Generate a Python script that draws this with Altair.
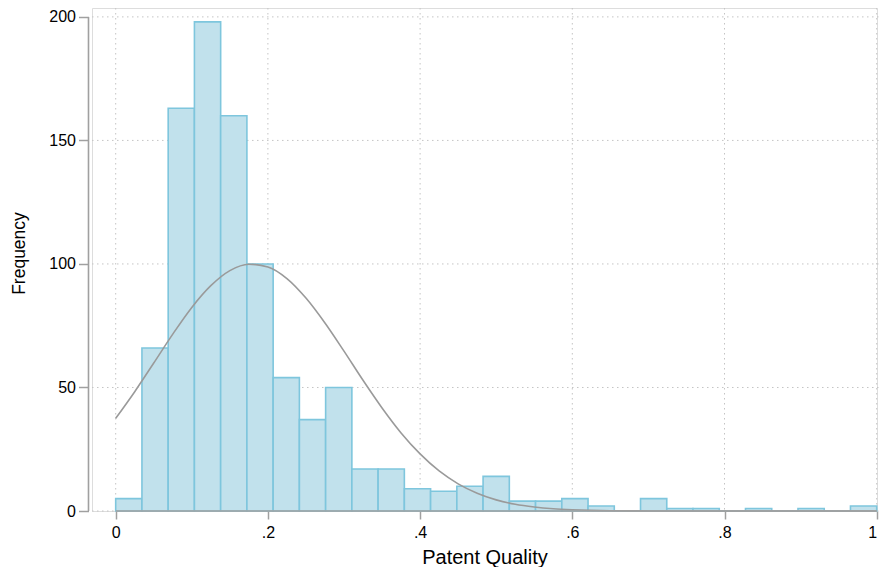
import altair as alt
import pandas as pd
import numpy as np

# ---- data ----
n_bins = 29
bin_edges = list(np.linspace(0.0, 1.0, n_bins + 1))
counts = [5, 66, 163, 198, 160, 100, 54, 37, 50, 17, 17, 9, 8, 10, 14,
          4, 4, 5, 2, 0, 5, 1, 1, 0, 1, 0, 1, 0, 2]

curve_x = [0.0, 0.025, 0.05, 0.075, 0.1, 0.125, 0.15, 0.175, 0.2, 0.225,
           0.25, 0.275, 0.3, 0.325, 0.35, 0.375, 0.4, 0.425, 0.45, 0.475,
           0.5, 0.525, 0.55, 0.575, 0.6, 0.625, 0.65, 0.7, 0.8, 0.9, 1.0]
curve_y = [37.5, 48.3, 59.9, 71.6, 82.4, 91.2, 97.3, 99.9, 98.8, 94.1,
           86.2, 76.1, 64.7, 52.9, 41.7, 31.6, 23.1, 16.2, 11.0, 7.2,
           4.5, 2.7, 1.6, 0.9, 0.5, 0.25, 0.12, 0.03, 0.0, 0.0, 0.0]

x_ticks = [0, 0.2, 0.4, 0.6, 0.8, 1]
x_tick_labels = ["0", ".2", ".4", ".6", ".8", "1"]
y_ticks = [0, 50, 100, 150, 200]

x_title = "Patent Quality"
y_title = "Frequency"

# ---- styling ----
FONT = "Liberation Sans"
BAR_FILL = "#c1e1ec"
BAR_STROKE = "#7ec6dd"
CURVE = "#9a9a9a"
AXIS = "#a0a0a0"
GRID = "#c4c4c4"

W, H = 785, 503
XDOM = [-0.03114, 1.00039]
YDOM = [0, 203.6]

bars_df = pd.DataFrame({
    "lo": bin_edges[:-1],
    "hi": bin_edges[1:],
    "count": counts,
})
curve_df = pd.DataFrame({"x": curve_x, "y": curve_y})
xgrid_df = pd.DataFrame({"x": x_ticks})
ygrid_df = pd.DataFrame({"y": y_ticks})

xscale = alt.Scale(domain=XDOM, nice=False, zero=False)
yscale = alt.Scale(domain=YDOM, nice=False, zero=False)

label_expr = "[" + ",".join("'%s'" % s for s in x_tick_labels) + "][round(datum.value*5)]"

x_axis = alt.Axis(values=x_ticks, labelExpr=label_expr, grid=False, domain=False,
                  tickColor=AXIS, tickWidth=1.5, tickSize=8, labelPadding=5,
                  labelFont=FONT, labelFontSize=16, labelColor="#000000",
                  title=x_title, titleFont=FONT, titleFontSize=20, titleFontWeight="normal",
                  titleColor="#000000", titleY=52, titleBaseline="alphabetic")
y_axis = alt.Axis(values=y_ticks, grid=False, domain=False, offset=3.5,
                  tickColor=AXIS, tickWidth=1.5, tickSize=10, labelPadding=3,
                  labelFont=FONT, labelFontSize=16, labelColor="#000000",
                  title=y_title, titleFont=FONT, titleFontSize=17.5, titleFontWeight="normal",
                  titleColor="#000000", titleAngle=270, titleX=-64.5, titleY=245,
                  titleBaseline="alphabetic")

vgrid = alt.Chart(xgrid_df).mark_rule(color=GRID, strokeWidth=1, strokeDash=[1.5, 3.5]).encode(
    x=alt.X("x:Q", scale=xscale, axis=x_axis),
    y=alt.value(0), y2=alt.value(H),
)
hgrid = alt.Chart(ygrid_df).mark_rule(color=GRID, strokeWidth=1, strokeDash=[1.5, 3.5]).encode(
    y=alt.Y("y:Q", scale=yscale, axis=y_axis),
    x=alt.value(0), x2=alt.value(W + 2),
)

bars = alt.Chart(bars_df).mark_rect(fill=BAR_FILL, stroke=BAR_STROKE, strokeWidth=1.6).encode(
    x=alt.X("lo:Q", scale=xscale),
    x2="hi:Q",
    y=alt.Y("count:Q", scale=yscale),
    y2=alt.datum(0),
)

curve = alt.Chart(curve_df).mark_line(color=CURVE, strokeWidth=1.6, interpolate="monotone").encode(
    x=alt.X("x:Q", scale=xscale),
    y=alt.Y("y:Q", scale=yscale),
)

xaxis_line = alt.Chart(pd.DataFrame({"a": [x_ticks[0]], "b": [x_ticks[-1]]})).mark_rule(
    color=AXIS, strokeWidth=1.6).encode(
    x=alt.X("a:Q", scale=xscale), x2="b:Q", y=alt.value(H),
)
yaxis_line = alt.Chart(pd.DataFrame({"a": [y_ticks[0]], "b": [y_ticks[-1]]})).mark_rule(
    color=AXIS, strokeWidth=1.6).encode(
    y=alt.Y("a:Q", scale=yscale), y2="b:Q", x=alt.value(-3.5),
)

chart = alt.layer(vgrid, hgrid, bars, curve, xaxis_line, yaxis_line).properties(
    width=W, height=H,
    padding={"left": 84, "top": 0, "right": 3, "bottom": 56},
    autosize=alt.AutoSizeParams(type="none"),
).configure_view(stroke=None).configure(background="#ffffff")

chart.save("out.html", embed_options={"renderer": "svg", "actions": False})
